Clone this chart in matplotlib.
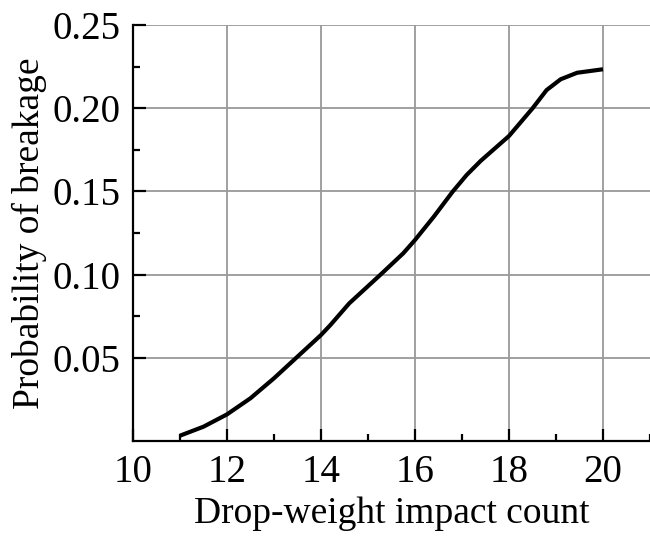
import numpy as np
import matplotlib.pyplot as plt

# data
impact_count = [11.0, 11.5, 12.0, 12.5, 13.0, 13.5, 14.0, 14.2, 14.6, 15.26,
                15.75, 16.0, 16.4, 16.8, 17.1, 17.4, 18.0, 18.5, 18.8, 19.1,
                19.45, 20.0]
p_breakage = [0.0032, 0.0086, 0.016, 0.0257, 0.0377, 0.0507, 0.0637, 0.0697,
              0.0827, 0.0998, 0.1128, 0.1208, 0.1348, 0.1498, 0.1599, 0.1684,
              0.1833, 0.1999, 0.2109, 0.2174, 0.2213, 0.2234]

x_major = [10, 12, 14, 16, 18, 20]
x_minor = [11, 13, 15, 17, 19, 21]
y_major = [0.05, 0.10, 0.15, 0.20, 0.25]
y_minor = [0.075, 0.125, 0.175, 0.225]

plt.rcParams['font.family'] = ['Liberation Serif', 'DejaVu Serif']

fig = plt.figure(figsize=(6.5, 5.38), dpi=100)
ax = fig.add_axes([133 / 650, 1 - 441 / 538, 517 / 650, 416 / 538])

ax.plot(impact_count, p_breakage, color='black', lw=3.0,
        solid_joinstyle='round', solid_capstyle='butt')

ax.set_xlim(10, 21)
ax.set_ylim(0, 0.25)
ax.set_xticks(x_major)
ax.set_xticks(x_minor, minor=True)
ax.set_yticks(y_major)
ax.set_yticks(y_minor, minor=True)
ax.set_yticklabels(['%.2f' % v for v in y_major])

ax.grid(True, which='major', color='#999999', lw=1.3)
ax.set_axisbelow(True)
ax.spines['top'].set_visible(False)
ax.spines['right'].set_visible(False)
for s in ['left', 'bottom']:
    ax.spines[s].set_linewidth(1.6)
ax.tick_params(which='major', direction='in', length=9, width=1.6, labelsize=28, pad=9)
ax.tick_params(which='minor', direction='in', length=5, width=1.6)

ax.set_xlabel('Drop-weight impact count', fontsize=27, labelpad=4)
ax.set_ylabel('Probability of breakage', fontsize=27, labelpad=4)

fig.savefig('out.png', dpi=100)
